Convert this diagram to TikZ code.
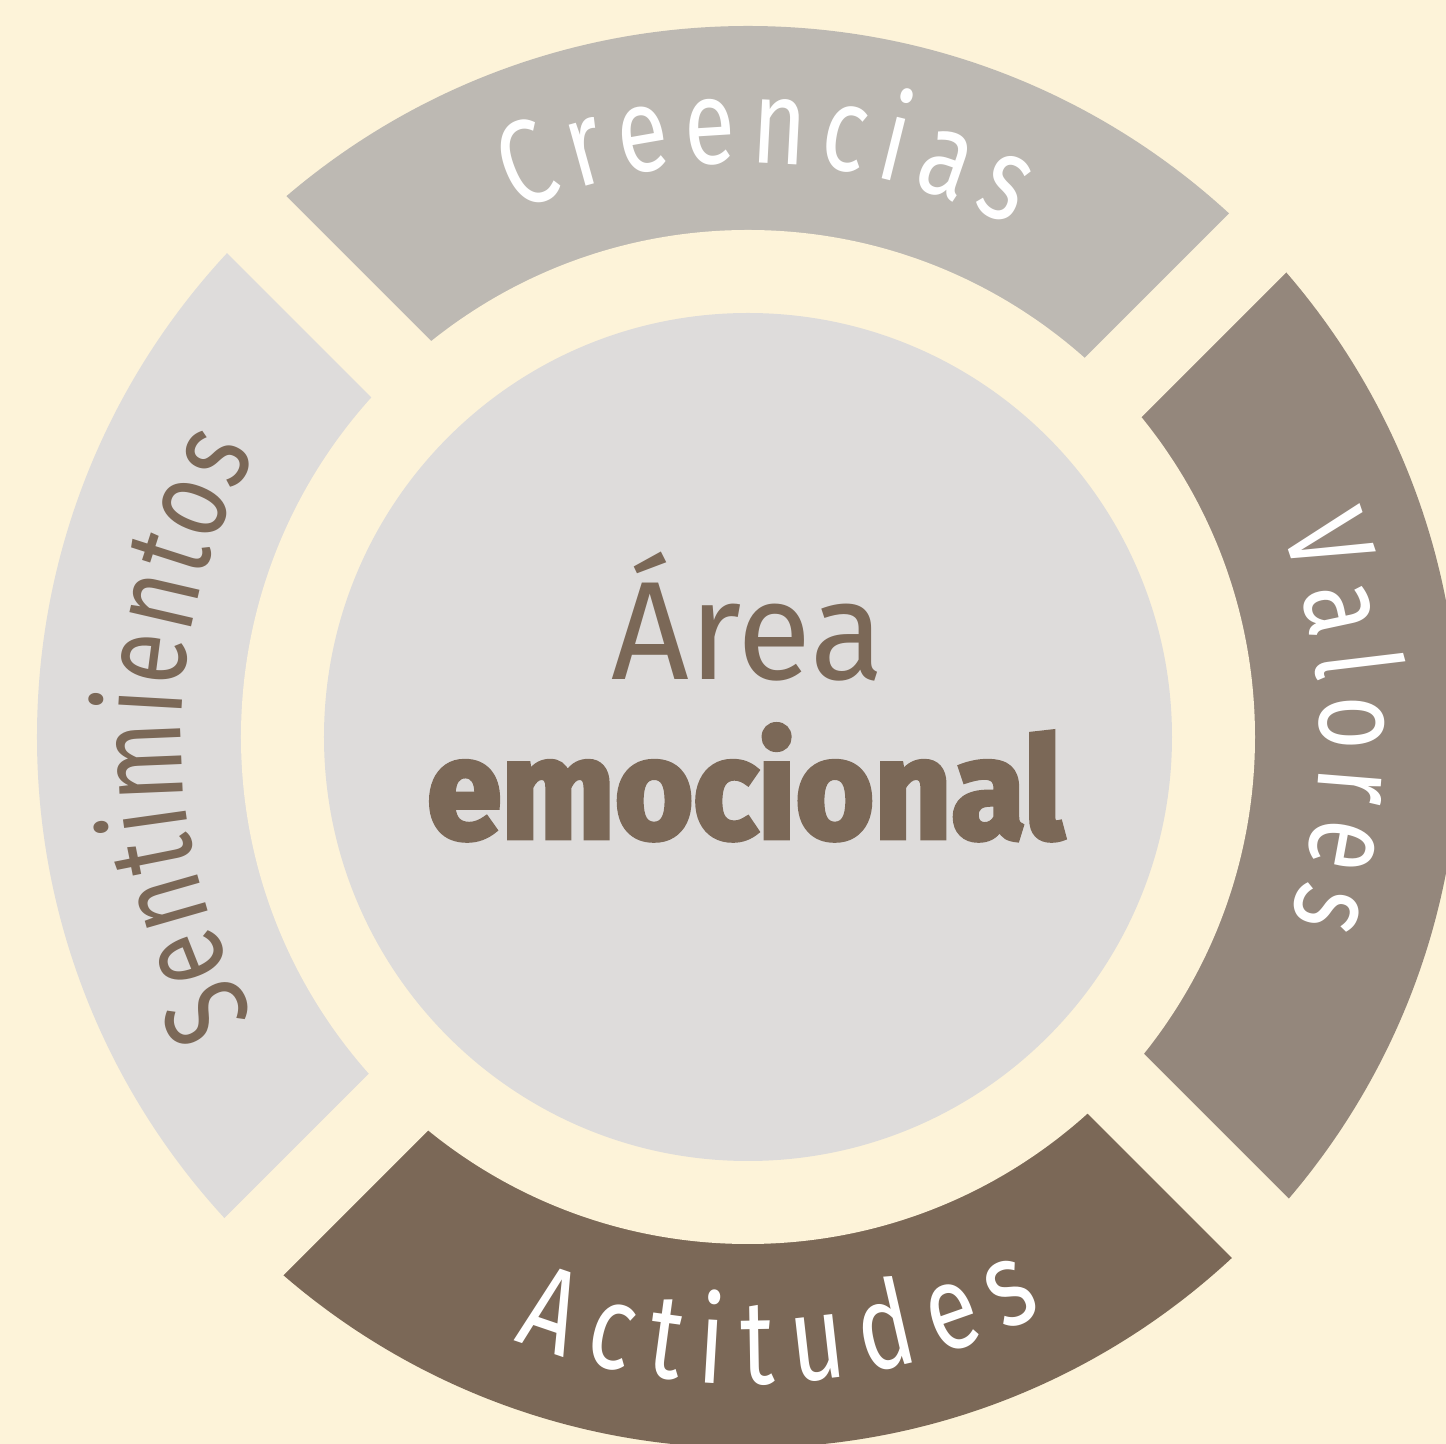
\documentclass[tikz,border=0pt]{standalone}
\usepackage{fontspec}
\setmainfont{Fira Sans}
\newfontfamily\ringfont[FakeStretch=0.78]{Fira Sans}
\newfontfamily\areafont[FakeStretch=0.97]{Fira Sans}
\newfontfamily\emofont[FakeStretch=0.96,BoldFeatures={FakeBold=3.5}]{Fira Sans}
\usetikzlibrary{decorations.text,calc}

\definecolor{crema}{HTML}{FDF3D9}
\definecolor{creencias}{HTML}{BDB9B3}
\definecolor{valores}{HTML}{94877C}
\definecolor{actitudes}{HTML}{7B6857}
\definecolor{sentim}{HTML}{DEDCDB}

\newcommand\ringfmt{\ringfont\fontsize{60}{66}\selectfont}

\tikzset{
  ringlabel/.style 2 args={decorate, decoration={text along path,
      text align={fit to path}, text color=#1, text={|\ringfmt|#2}}},
  gapstrip/.style={fill=crema}
}

\begin{document}
\begin{tikzpicture}[x=0.5pt,y=0.5pt]
        \useasboundingbox (-748,-707) rectangle (698,737);
        \fill[crema] (-748,-707) rectangle (698,737);
        \coordinate (O) at (0,0);
        \coordinate (G) at (18.4,2.8);
        % the four parts of the ring
        \begin{scope}
          \clip (O) circle [radius=711];
          \fill[creencias] (G) -- ++(-1000,1000) -- ++(2000,0) -- cycle;
          \fill[valores] (G) -- ++(1000,1000) -- ++(0,-2000) -- cycle;
          \fill[actitudes] (G) -- ++(1000,-1000) -- ++(-2000,0) -- cycle;
          \fill[sentim] (G) -- ++(-1000,-1000) -- ++(0,2000) -- cycle;
        \end{scope}
        \fill[gapstrip, rotate around={45:(G)}] ($(G)+(-1000,-41)$) rectangle ($(G)+(1000,41)$);
        \fill[gapstrip, rotate around={-45:(G)}] ($(G)+(-1000,-41)$) rectangle ($(G)+(1000,41)$);
        \fill[crema] (O) circle [radius=507];
        \fill[sentim] (O) circle [radius=424];
        % labels on the ring
        \path[ringlabel={white}{Creencias}] (113.8:574) arc [start angle=113.8, end angle=62.8, radius=574];
        \path[ringlabel={white}{Valores}] (21.3:572) arc [start angle=21.3, end angle=-18.7, radius=572];
        \path[ringlabel={white}{Actitudes}] (248.8:647) arc [start angle=248.8, end angle=297.2, radius=647];
        \path[ringlabel={actitudes}{Sentimientos}] (209.6:567) arc [start angle=209.6, end angle=150.1, radius=567];
        % centre
        \node[text=actitudes, font=\areafont\fontsize{70}{70}\selectfont, anchor=base, inner sep=0pt] (area) at (0,57) {Área};
        \node[text=actitudes, font=\emofont\bfseries\fontsize{70}{70}\selectfont, anchor=base, inner sep=0pt] (emocional) at (-2.5,-101) {emocional};
\end{tikzpicture}
\end{document}
